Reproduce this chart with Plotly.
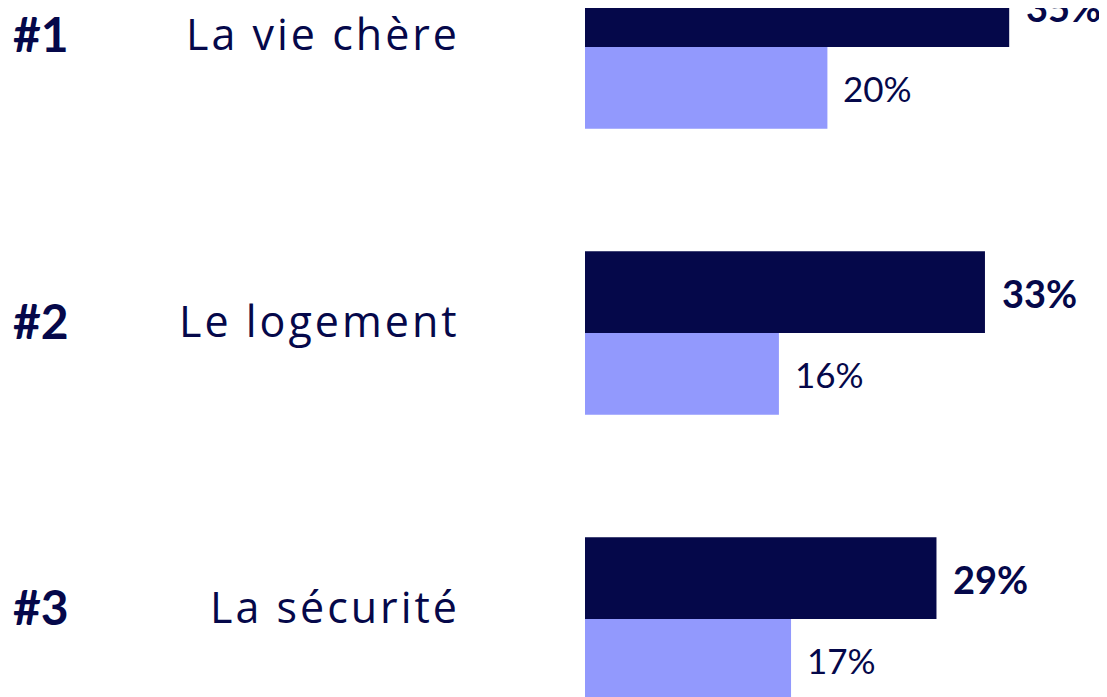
import plotly.graph_objects as go

ranks = ["#1", "#2", "#3"]
categories = ["La vie chère", "Le logement", "La sécurité"]
dark_values = [35, 33, 29]
light_values = [20, 16, 17]

DARK = "#05084A"
LIGHT = "#9299FD"
W, H = 1107, 697
OFF = 8  # page body margin
LEFT = 585 - OFF
PX_PER_UNIT = 12.12
GROUP_PX = 286.5
C1 = 47 - OFF   # centre of first group in figure px
C3 = 619 - OFF

pos = list(range(len(categories)))

fig = go.Figure()
fig.add_trace(go.Bar(x=dark_values, y=pos, orientation="h", marker_color=DARK,
                     marker_line_width=0, hoverinfo="skip"))
fig.add_trace(go.Bar(x=light_values, y=pos, orientation="h", marker_color=LIGHT,
                     marker_line_width=0, hoverinfo="skip"))

ann = []
for i, p in enumerate(pos):
    ann.append(dict(x=dark_values[i], y=p, xref="x", yref="y", text="<b>%d%%</b>" % dark_values[i],
                    showarrow=False, xanchor="left", yanchor="middle", xshift=15,
                    yshift=GROUP_PX * 0.143 - 1,
                    font=dict(family="Lato", size=38, color=DARK)))
    ann.append(dict(x=light_values[i], y=p, xref="x", yref="y", text="%d%%" % light_values[i],
                    showarrow=False, xanchor="left", yanchor="middle", xshift=14,
                    yshift=-GROUP_PX * 0.143,
                    font=dict(family="Lato", size=35, color=DARK)))
    ann.append(dict(x=0, y=p, xref="paper", yref="y",
                    text='<span style="letter-spacing:3px">' + categories[i] + '</span>',
                    showarrow=False, xanchor="right", yanchor="middle", xshift=-(LEFT - (462 - OFF)), yshift=13,
                    font=dict(family="Open Sans", size=43, color=DARK)))
    ann.append(dict(x=0, y=p, xref="paper", yref="y", text="<b>" + ranks[i] + "</b>",
                    showarrow=False, xanchor="left", yanchor="middle", xshift=-(LEFT - (11 - OFF)), yshift=13,
                    font=dict(family="Lato", size=48, color=DARK)))

fig.update_layout(
    width=W, height=H,
    margin=dict(l=LEFT, r=0, t=0, b=0),
    paper_bgcolor="white", plot_bgcolor="white",
    barmode="group", bargap=0.428, bargroupgap=0,
    showlegend=False,
    xaxis=dict(range=[0, (W - LEFT) / PX_PER_UNIT], visible=False, fixedrange=True),
    yaxis=dict(range=[2 + (H - C3) / GROUP_PX, -C1 / GROUP_PX], visible=False, fixedrange=True),
    annotations=ann,
)
fig.write_html("out.html", config={"displayModeBar": False})
